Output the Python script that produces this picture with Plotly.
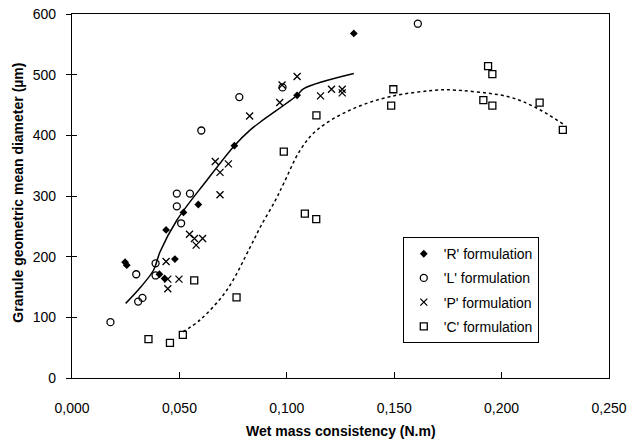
import plotly.graph_objects as go

# 'R' formulation
r_x = [0.0247, 0.0255, 0.0438, 0.0519, 0.0588, 0.0479, 0.0407, 0.0431, 0.0756, 0.1048, 0.1312]
r_y = [191, 186, 244, 273, 286, 196, 171, 164, 383, 466, 568]
# 'L' formulation
l_x = [0.0179, 0.0308, 0.0328, 0.0299, 0.0389, 0.0389, 0.0488, 0.0549, 0.0488, 0.0508, 0.0779, 0.0602, 0.0980, 0.1610]
l_y = [92, 126, 132, 171, 189, 169, 304, 304, 283, 255, 463, 408, 479, 584]
# 'P' formulation
p_x = [0.0689, 0.0547, 0.0570, 0.0608, 0.0578, 0.0438, 0.0446, 0.0498, 0.0446, 0.0827, 0.0667,
       0.0728, 0.0689, 0.0967, 0.0978, 0.1048, 0.1157, 0.1208, 0.1258, 0.1258]
p_y = [302, 237, 230, 230, 219, 192, 163, 163, 147, 432, 357, 353, 339, 454, 483, 497, 465, 476, 476, 470]
# 'C' formulation
c_x = [0.0356, 0.0456, 0.0516, 0.0569, 0.0766, 0.1084, 0.1137, 0.0986, 0.1138, 0.1496, 0.1486,
       0.1937, 0.1957, 0.1915, 0.1957, 0.2177, 0.2285]
c_y = [64, 58, 71, 161, 133, 271, 262, 373, 433, 476, 449, 514, 501, 458, 449, 454, 409]

# fitted curves
fit_r_x = [0.025, 0.032, 0.038, 0.041, 0.0488, 0.0628, 0.0756, 0.083, 0.0877, 0.1048, 0.1079, 0.1312]
fit_r_y = [123, 150, 178, 208, 260, 326, 383, 409, 422, 466, 477, 502]
fit_c_x = [0.0516, 0.0597, 0.0721, 0.083, 0.0877, 0.0947, 0.0986, 0.1063, 0.1141, 0.1297, 0.1483,
           0.1716, 0.1763, 0.2027, 0.2152, 0.2285]
fit_c_y = [76, 96, 145, 216, 249, 293, 321, 376, 409, 442, 464, 475, 475, 464, 447, 419]

x_ticks = [0, 0.05, 0.10, 0.15, 0.20, 0.25]
y_ticks = [0, 100, 200, 300, 400, 500, 600]

fig = go.Figure()
fig.add_trace(go.Scatter(x=fit_r_x, y=fit_r_y, mode="lines", line=dict(color="black", width=1.5, shape="spline"),
                         showlegend=False, hoverinfo="skip"))
fig.add_trace(go.Scatter(x=fit_c_x, y=fit_c_y, mode="lines", line=dict(color="black", width=1.5, dash="dot", shape="spline"),
                         showlegend=False, hoverinfo="skip"))
fig.add_trace(go.Scatter(x=r_x, y=r_y, mode="markers", name="'R' formulation", legendgroup="R",
                         marker=dict(symbol="diamond", size=6, color="black")))
fig.add_trace(go.Scatter(x=l_x, y=l_y, mode="markers", name="'L' formulation", legendgroup="L",
                         marker=dict(symbol="circle-open", size=7, color="black", line=dict(width=1.3))))
fig.add_trace(go.Scatter(x=p_x, y=p_y, mode="markers", name="'P' formulation", legendgroup="P",
                         marker=dict(symbol="x-thin-open", size=7, color="black", line=dict(width=1.3, color="black"))))
fig.add_trace(go.Scatter(x=c_x, y=c_y, mode="markers", name="'C' formulation", legendgroup="C",
                         marker=dict(symbol="square-open", size=7, color="black", line=dict(width=1.3))))
fig.add_trace(go.Scatter(x=[None], y=[None], yaxis="y2", showlegend=False, hoverinfo="skip"))

font = "Arial, Liberation Sans, sans-serif"
fig.update_layout(
    width=630, height=442,
    margin=dict(l=72, r=21, t=14, b=64),
    paper_bgcolor="white", plot_bgcolor="white",
    separators=", ",
    font=dict(family=font, size=14, color="black"),
    xaxis=dict(range=[0, 0.25], tickvals=x_ticks, tickformat=".3f", showgrid=False, zeroline=False,
               showline=True, linecolor="black", linewidth=1.2, mirror=True, automargin=False,
               ticks="inside", ticklen=6, tickcolor="black", ticklabelstandoff=17, tickfont=dict(size=14)),
    yaxis=dict(range=[0, 600], tickvals=y_ticks, showgrid=False, zeroline=False, automargin=False,
               showline=True, linecolor="black", linewidth=1.2, mirror=True,
               ticks="outside", ticklen=5, tickcolor="black", ticklabelstandoff=7, tickfont=dict(size=14)),
    yaxis2=dict(range=[0, 600], tickvals=y_ticks, overlaying="y", side="left", showticklabels=False,
                automargin=False, showgrid=False, zeroline=False, ticks="inside", ticklen=5, tickcolor="black"),
    legend=dict(x=0.616, y=0.387, xanchor="left", yanchor="top", bordercolor="black", borderwidth=1,
                bgcolor="white", font=dict(size=14), tracegroupgap=3, itemwidth=30),
    annotations=[
        dict(text="<b>Wet mass consistency (N.m)</b>", xref="paper", yref="paper", x=0.5, y=-0.146,
             xanchor="center", yanchor="middle", showarrow=False, font=dict(size=14)),
        dict(text="<b>Granule geometric mean diameter (µm)</b>", xref="paper", yref="paper", x=-0.1,
             y=0.51, xanchor="center", yanchor="middle", textangle=-90, showarrow=False, font=dict(size=14)),
    ],
)
fig.write_html("out.html", config={"displayModeBar": False},
               post_script="document.body.style.margin='0';document.body.style.overflow='hidden';")
